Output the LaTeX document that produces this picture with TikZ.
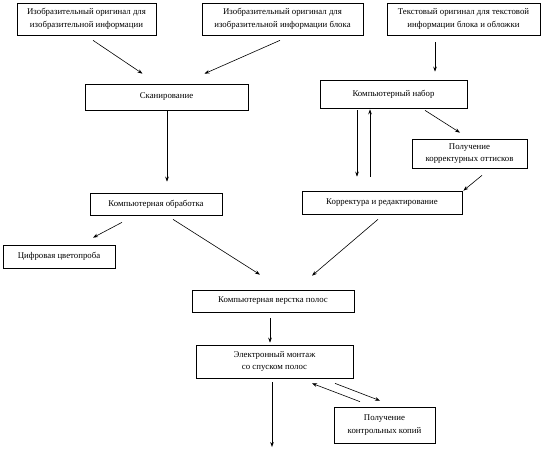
\documentclass[tikz,border=0pt]{standalone}
\usepackage{fontspec}
\setmainfont{Liberation Serif}
\usetikzlibrary{arrows.meta}
\begin{document}
\begin{tikzpicture}[x=1pt,y=-1pt,
  box/.style={draw=black,line width=0.7pt,fill=white,inner sep=1pt,align=center,font=\fontsize{8.8}{12.5}\selectfont},
  arr/.style={line width=0.6pt,-{Stealth[length=5pt,width=3.6pt]}}]
\useasboundingbox (0,0) rectangle (553,453);
\node[box,minimum width=139pt,minimum height=32pt] (n1) at (86.5,19) {Изобразительный оригинал для\\изобразительной информации};
\node[box,minimum width=161pt,minimum height=32pt] (n2) at (282.5,19) {Изобразительный оригинал для\\изобразительной информации блока};
\node[box,minimum width=153pt,minimum height=32pt] (n3) at (463.5,19) {Текстовый оригинал для текстовой\\информации блока и обложки};
\node[box,minimum width=163pt,minimum height=26pt] (scan) at (166.5,97) {Сканирование};
\node[box,minimum width=147pt,minimum height=28pt] (nabor) at (393.5,94) {Компьютерный набор};
\node[box,minimum width=115pt,minimum height=29pt] (poluch) at (469.5,153.5) {Получение\\корректурных оттисков};
\node[box,minimum width=132pt,minimum height=22pt] (obrab) at (156,204) {Компьютерная обработка};
\node[box,minimum width=160pt,minimum height=23pt] (korr) at (382,202.5) {Корректура и редактирование};
\node[box,minimum width=112pt,minimum height=23pt] (cifr) at (59,256.5) {Цифровая цветопроба};
\node[box,minimum width=162pt,minimum height=22pt] (verst) at (273,301) {Компьютерная верстка полос};
\node[box,minimum width=157pt,minimum height=33pt] (montazh) at (274.5,361.5) {Электронный монтаж\\со спуском полос};
\node[box,minimum width=101pt,minimum height=36pt] (kopii) at (384.5,425) {Получение\\контрольных копий};
\coordinate (out) at (272,447);
\draw[arr] ([shift={(6.5,5)}]n1.south) -- ([shift={(-24,-10)}]scan.north);
\draw[arr] ([shift={(-2.5,5)}]n2.south) -- ([shift={(38,-10)}]scan.north);
\draw[arr] ([shift={(-28.5,7)}]n3.south) -- ([shift={(41.5,-8)}]nabor.north);
\draw[arr] ([shift={(0.5,1)}]scan.south) -- ([shift={(11,-11)}]obrab.north);
\draw[arr] ([shift={(-36.5,2)}]nabor.south) -- ([shift={(-25,-14)}]korr.north);
\draw[arr] ([shift={(-12,-14)}]korr.north) -- ([shift={(-23.5,1)}]nabor.south);
\draw[arr] ([shift={(31.5,2)}]nabor.south) -- ([shift={(-9.5,-6)}]poluch.north);
\draw[arr] ([shift={(12.5,7)}]poluch.south) -- ([shift={(1,0)}]korr.north east);
\draw[arr] ([shift={(-34,7)}]obrab.south) -- ([shift={(34,-7)}]cifr.north);
\draw[arr] ([shift={(17,4)}]obrab.south) -- ([shift={(-13,-15)}]verst.north);
\draw[arr] ([shift={(-4,5)}]korr.south) -- ([shift={(39,-14)}]verst.north);
\draw[arr] ([shift={(-3,6)}]verst.south) -- ([shift={(-4.5,-2)}]montazh.north);
\draw[arr] ([shift={(-2.5,4)}]montazh.south) -- (out);
\draw[arr] ([shift={(-24.5,-5)}]kopii.north) -- ([shift={(37.5,5)}]montazh.south);
\draw[arr] ([shift={(60.5,5)}]montazh.south) -- ([shift={(-4.5,-6)}]kopii.north);
\end{tikzpicture}
\end{document}
